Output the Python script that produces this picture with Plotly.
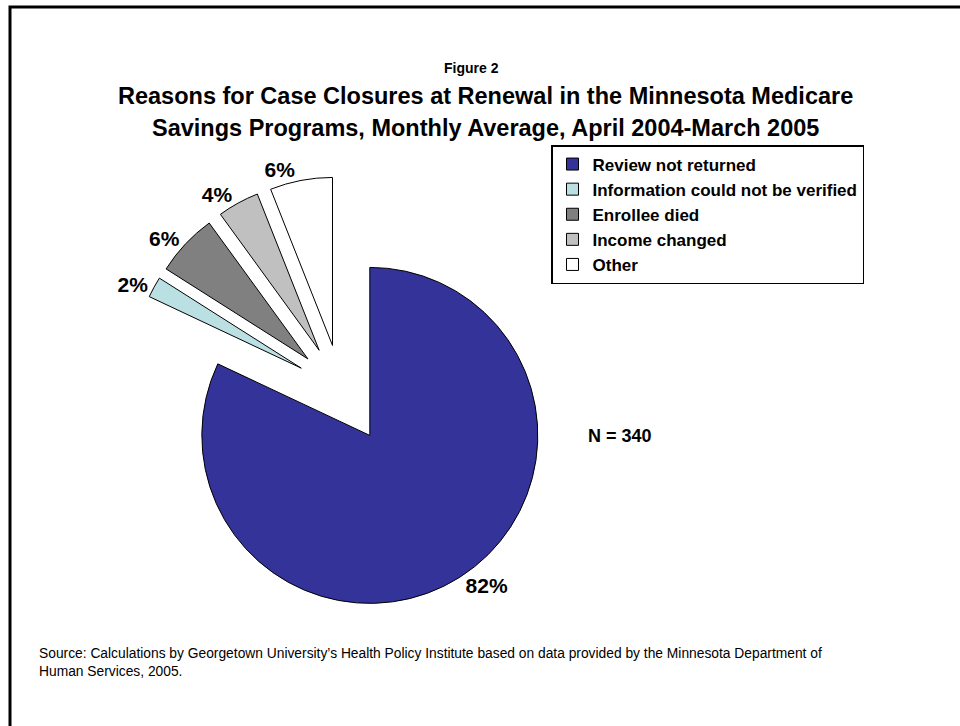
import plotly.graph_objects as go

W, H = 960, 726

reasons = ["Review not returned", "Information could not be verified",
           "Enrollee died", "Income changed", "Other"]
shares = [82, 2, 6, 4, 6]
colors = ["#333399", "#BBE0E3", "#808080", "#C0C0C0", "#FFFFFF"]

fig_label = "Figure 2"
title_lines = ["Reasons for Case Closures at Renewal in the Minnesota Medicare",
               "Savings Programs, Monthly Average, April 2004-March 2005"]
n_label = "N = 340"
source_lines = ["Source: Calculations by Georgetown University\u2019s Health Policy Institute based on data provided by the Minnesota Department of",
                "Human Services, 2005."]

FONT = "Liberation Sans, Arial, sans-serif"

def px(x):
    return x / W

def py(y):
    return 1 - y / H

cx, cy, R = 341, 390, 168
pulls = [0.32, 0.27, 0.27, 0.27, 0.27]
half = R * (1 + max(pulls))

fig = go.Figure(go.Pie(
    labels=reasons,
    values=shares,
    sort=False,
    direction="clockwise",
    rotation=0,
    pull=pulls,
    marker=dict(colors=colors, line=dict(color="black", width=1)),
    texttemplate="%{percent:.0%}",
    textposition="outside",
    outsidetextfont=dict(family=FONT, size=21, color="black", weight="bold"),
    domain=dict(x=[px(cx - half), px(cx + half)], y=[py(cy + half), py(cy - half)]),
    hoverinfo="label+percent",
))

annotations = [
    dict(text=fig_label, x=px(471), y=py(68), font=dict(size=14, weight="bold")),
    dict(text=title_lines[0], x=px(485), y=py(96), font=dict(size=23.5, weight="bold")),
    dict(text=title_lines[1], x=px(485), y=py(128), font=dict(size=23.5, weight="bold")),
    dict(text=n_label, x=px(620), y=py(436), font=dict(size=18, weight="bold")),
    dict(text=source_lines[0], x=px(37), y=py(653), xanchor="left", font=dict(size=13.8)),
    dict(text=source_lines[1], x=px(37), y=py(671), xanchor="left", font=dict(size=13.8)),
]
for a in annotations:
    a.setdefault("xanchor", "center")
    a.update(xref="paper", yref="paper", yanchor="middle", showarrow=False)
    a["font"].update(family=FONT, color="black")

fig.update_layout(
    width=W, height=H,
    margin=dict(l=0, r=0, t=0, b=0),
    paper_bgcolor="white", plot_bgcolor="white",
    showlegend=True,
    legend=dict(
        x=px(551), y=py(145), xanchor="left", yanchor="top",
        bgcolor="white", bordercolor="black", borderwidth=1.5,
        font=dict(family=FONT, size=17, color="black", weight="bold"),
        tracegroupgap=0,
    ),
    annotations=annotations,
    shapes=[dict(type="rect", xref="paper", yref="paper",
                 x0=px(10), x1=1.02, y0=-0.02, y1=py(7),
                 line=dict(color="black", width=3), fillcolor="rgba(0,0,0,0)",
                 layer="above")],
)

fig.write_html("out.html")
